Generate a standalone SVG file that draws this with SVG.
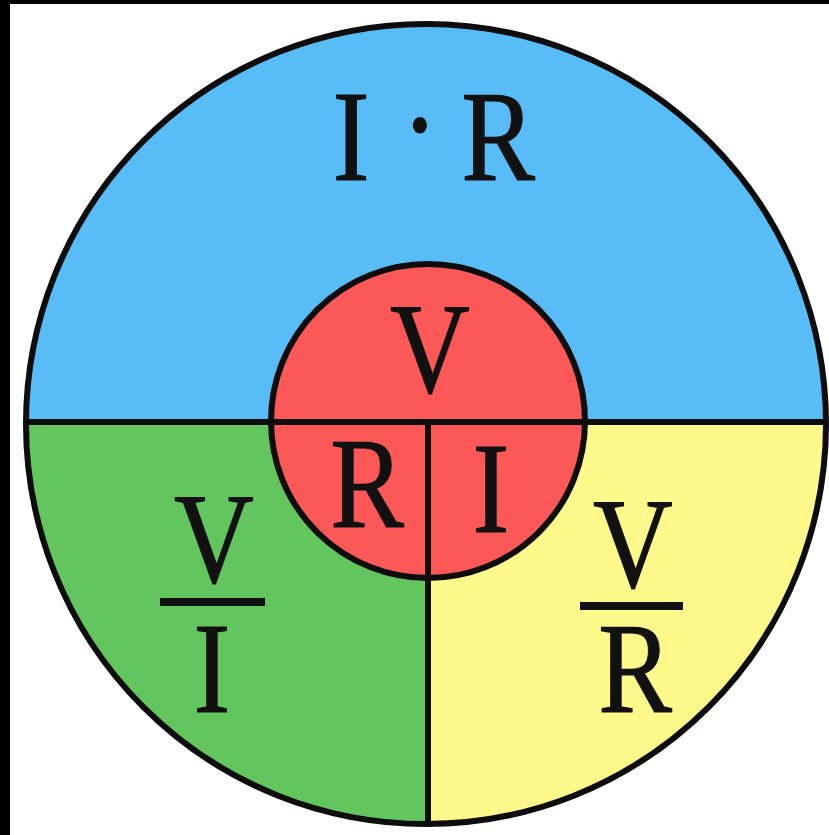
<svg xmlns="http://www.w3.org/2000/svg" width="829" height="835" viewBox="0 0 829 835">
<style>
.ln{stroke:#0d0d0d;stroke-width:6;fill:none}
.t{font-family:"Liberation Serif","Times New Roman",serif;font-size:130px;fill:#111;stroke:#111;stroke-width:1.2;text-anchor:middle}
.bar{fill:#111}
</style>
<rect x="0" y="0" width="829" height="835" fill="#fff"/>
<rect x="0" y="0" width="829" height="4" fill="#000"/>
<rect x="0" y="0" width="10" height="835" fill="#000"/>
<g id="top-blue">
<path d="M26,422 A400,400 0 0 1 826,422 Z" fill="#58bdf7"/>
<text class="t" transform="translate(0,180) scale(0.85,1)"><tspan x="413">I</tspan><tspan x="494" dy="-12">·</tspan><tspan x="586" dy="12">R</tspan></text>
</g>
<g id="left-green">
<path d="M26,422 A400,400 0 0 0 428,824 L428,422 Z" fill="#63c55d"/>
<text class="t" transform="scale(0.85,1)"><tspan x="251.8" y="582">V</tspan><tspan x="249.4" y="712">I</tspan></text>
<rect class="bar" x="160" y="598" width="105" height="8"/>
</g>
<g id="right-yellow">
<path d="M428,422 L428,824 A400,400 0 0 0 826,422 Z" fill="#fff88a"/>
<text class="t" transform="scale(0.85,1)"><tspan x="744.7" y="587">V</tspan><tspan x="747.1" y="712">R</tspan></text>
<rect class="bar" x="580" y="602" width="103" height="8"/>
</g>
<circle class="ln" cx="426" cy="424" r="400"/>
<g id="center-red">
<circle cx="428" cy="421" r="157" fill="#fc5858" stroke="#0d0d0d" stroke-width="6"/>
<text class="t" transform="translate(430,392) scale(0.85,1)">V</text>
<text class="t" transform="translate(367,527) scale(0.85,1)">R</text>
<text class="t" transform="translate(491,532) scale(0.85,1)">I</text>
</g>
<g id="connectors">
<line class="ln" x1="25" y1="422" x2="826" y2="422"/>
<line class="ln" x1="428" y1="422" x2="428" y2="824"/>
</g>
</svg>
